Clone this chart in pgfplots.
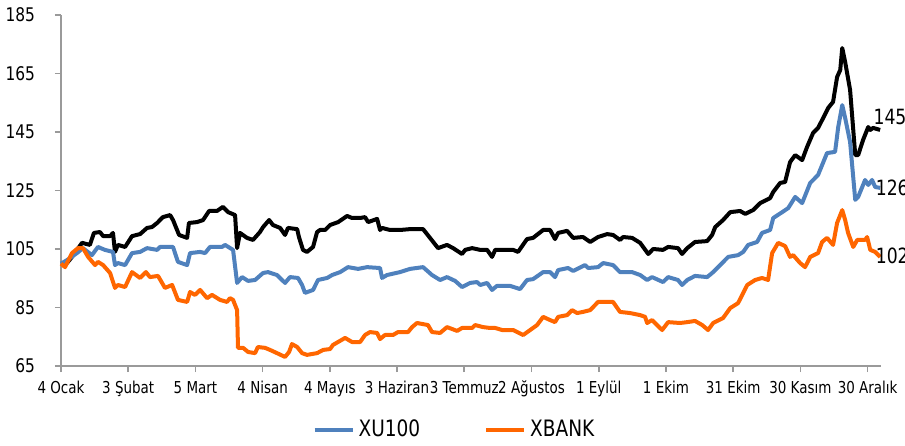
\documentclass[border=0pt]{standalone}
\usepackage{fontspec}
\setmainfont{DejaVu Sans}[FakeStretch=0.82]
\usepackage{pgfplots}
\pgfplotsset{compat=1.18}
\definecolor{xublue}{HTML}{4F81BD}
\definecolor{xborange}{HTML}{FF6600}
\definecolor{axgray}{HTML}{9A9A9A}
\begin{document}
\begin{tikzpicture}
\begin{axis}[
  at={(0,0)}, anchor=south west,
  scale only axis, width=410pt, height=175.5pt,
  xmin=0, xmax=366, ymin=65, ymax=185,
  axis x line*=bottom, axis y line*=left,
  axis line style={axgray, line width=0.9pt, -},
  xtick={0,30,60,90,120,150,180,210,240,270,300,330,360},
  xticklabels={4 Ocak,3 Şubat,5 Mart,4 Nisan,4 Mayıs,3 Haziran,3 Temmuz,2 Ağustos,1 Eylül,1 Ekim,31 Ekim,30 Kasım,30 Aralık},
  ytick={65,85,105,125,145,165,185},
  tick align=outside, major tick length=3pt,
  tick style={axgray, line width=0.8pt},
  /pgf/number format/assume math mode=true,
  yticklabel style={font=\fontsize{9.4}{11}\selectfont, xshift=-6.5pt},
  xticklabel style={font=\fontsize{8.2}{10}\selectfont, text height=1.5ex, text depth=0.3ex, yshift=1pt},
  legend style={at={(0.481,-0.182)}, anchor=center, draw=none, fill=none,
    font=\fontsize{11.3}{13}\selectfont, legend columns=2,
    /tikz/every even column/.append style={column sep=30pt}},
  legend image code/.code={\draw[#1, line width=2pt] (0pt,0pt) -- (19pt,0pt);},
  clip=false,
]
% black series (no legend entry)
\addplot[black, line width=2pt, line join=round, forget plot] coordinates {
(0,100.0)(2.7,100.2)(4.9,102.3)(9.4,107.1)(12.9,106.4)(14.7,110.5)(17.4,110.8)(18.8,109.4)(21.9,109.4)(23.2,110.5)(24.1,104.0)(25.4,106.4)(28.6,105.7)(31.7,109.4)(35.3,110.1)(38.4,112.2)(40.6,112.5)(42.9,113.9)(45.5,115.9)(48.7,116.6)(50.0,114.9)(52.7,109.8)(56.3,108.8)(57.1,113.9)(60.7,114.2)(63.4,114.9)(66.1,118.0)(69.6,118.0)(72.3,119.4)(74.6,117.6)(77.7,116.6)(78.6,105.3)(79.9,110.5)(83.0,108.8)(85.7,108.1)(88.8,110.8)(90.2,112.5)(92.9,114.9)(94.6,113.2)(97.8,112.2)(100.0,109.8)(101.3,112.2)(105.4,111.8)(106.2,109.1)(108.0,104.7)(109.8,104.0)(112.5,105.7)(114.3,110.8)(115.6,111.5)(117.9,111.5)(120.1,113.2)(123.7,114.2)(127.7,116.3)(129.9,115.6)(133.5,115.6)(135.7,115.9)(137.1,114.2)(141.1,115.3)(142.4,111.5)(143.3,112.2)(146.9,111.5)(151.3,111.5)(155.8,111.8)(161.6,111.8)(164.7,108.8)(168.3,105.3)(172.3,106.4)(175.0,105.3)(179.0,103.3)(180.4,104.7)(183.5,105.3)(187.1,104.7)(190.2,104.7)(192.4,102.3)(193.8,104.7)(197.3,104.7)(201.8,104.7)(204.0,104.0)(208.0,108.4)(210.7,108.8)(215.2,111.5)(218.3,111.5)(220.5,108.4)(221.9,110.5)(225.9,111.2)(228.6,108.8)(233.0,109.1)(236.2,107.4)(239.7,109.1)(243.8,110.1)(246.4,109.8)(249.5,108.1)(250.9,109.1)(254.9,108.8)(258.5,107.1)(262.1,103.3)(264.3,105.0)(268.7,104.7)(271.0,105.7)(275.4,105.3)(277.2,103.3)(279.5,105.3)(283.0,107.4)(288.4,107.7)(290.6,109.8)(292.0,112.5)(295.5,114.9)(298.7,117.6)(303.1,118.0)(305.4,117.0)(308.9,118.3)(312.1,120.7)(316.5,122.4)(317.9,124.5)(321.0,127.6)(323.2,127.9)(325.4,134.7)(327.7,137.1)(330.8,135.4)(333.0,139.9)(335.7,144.7)(337.9,146.4)(340.2,149.8)(342.4,153.2)(344.6,155.3)(346.4,163.8)(347.8,166.2)(348.7,173.7)(350.0,168.9)(352.2,159.4)(354.5,137.1)(355.8,137.1)(358.0,142.3)(360.3,146.7)(361.2,145.7)(362.5,146.4)(365.6,145.7)
};
\addplot[xublue, line width=2pt, line join=round] coordinates {
(0,100.0)(2.7,101.2)(7.1,103.6)(9.8,105.3)(13.8,102.9)(16.5,105.7)(19.6,104.7)(23.2,104.0)(24.1,99.5)(25.4,100.2)(28.6,99.5)(31.7,103.6)(35.3,104.0)(38.4,105.3)(42.9,104.7)(44.2,105.7)(50.0,105.7)(52.2,100.6)(56.3,99.5)(57.6,103.6)(62.1,104.0)(64.3,103.6)(66.5,105.7)(71.9,105.7)(73.2,106.4)(76.8,104.7)(78.6,93.4)(80.8,95.4)(83.5,94.1)(86.6,94.4)(90.2,96.8)(92.4,97.1)(96.4,96.1)(100.0,93.4)(102.2,95.4)(105.8,95.1)(107.6,92.7)(108.9,90.0)(112.5,91.0)(114.7,94.4)(118.8,95.1)(121.0,96.1)(124.6,97.1)(128.1,98.8)(132.6,98.2)(136.6,98.8)(142.4,98.5)(143.3,95.1)(145.5,96.1)(151.3,97.1)(155.8,98.2)(161.6,98.8)(165.6,96.1)(169.2,94.4)(172.3,95.4)(175.9,94.1)(179.0,92.0)(182.6,93.4)(185.7,93.7)(187.1,92.7)(190.2,93.4)(192.4,91.0)(194.6,92.4)(200.4,92.4)(204.9,91.3)(208.0,94.4)(210.7,94.7)(215.2,97.1)(218.3,97.1)(220.5,95.4)(221.9,97.8)(226.3,98.5)(228.6,97.5)(233.9,99.5)(235.3,98.5)(239.7,98.8)(242.0,100.2)(246.4,99.5)(249.5,97.1)(254.9,97.1)(258.5,96.1)(261.6,94.4)(263.8,95.4)(268.7,93.7)(271.0,95.4)(275.4,94.4)(277.2,92.7)(279.5,94.4)(283.0,95.8)(288.4,95.4)(291.1,97.1)(293.3,98.8)(297.8,102.3)(302.2,102.9)(304.5,104.0)(306.7,106.4)(310.7,107.4)(312.9,110.5)(316.5,111.5)(317.9,115.6)(321.9,117.6)(324.6,119.0)(327.7,122.8)(330.8,120.7)(334.4,127.6)(337.9,130.3)(341.9,137.8)(345.5,138.2)(346.9,146.7)(348.7,154.2)(350.0,149.8)(352.2,141.6)(354.5,121.8)(355.8,122.8)(358.9,128.6)(360.3,126.9)(362.0,128.6)(363.4,126.2)(365.6,125.9)
};
\addlegendentry{XU100}
\addplot[xborange, line width=2pt, line join=round] coordinates {
(0,100.0)(1.8,98.8)(4.9,103.6)(7.6,105.3)(9.8,105.3)(12.1,102.3)(15.2,99.5)(16.5,100.6)(18.8,99.5)(21.9,96.8)(24.1,91.7)(25.4,92.7)(28.6,92.0)(31.7,97.1)(35.3,95.1)(37.9,97.1)(39.7,95.4)(43.3,95.8)(46.4,91.7)(49.6,92.7)(52.2,87.6)(56.3,86.9)(57.6,90.3)(59.8,89.3)(62.1,91.0)(65.2,88.2)(67.4,89.3)(71.0,87.6)(74.1,86.9)(75.4,88.2)(76.8,87.6)(78.6,84.1)(79.0,71.2)(81.3,71.2)(83.5,69.8)(86.6,69.4)(87.9,71.5)(91.1,71.2)(93.3,70.5)(96.4,69.4)(100.0,68.1)(101.8,69.8)(103.1,72.5)(105.4,71.5)(107.6,69.4)(109.8,68.8)(114.3,69.4)(117.0,70.5)(120.1,70.8)(121.4,72.2)(126.8,74.6)(129.9,73.2)(133.5,73.2)(135.7,75.6)(137.9,76.6)(141.1,76.3)(142.4,74.2)(144.6,75.6)(148.2,75.6)(150.4,76.6)(154.9,76.6)(156.7,78.3)(158.9,79.7)(163.8,79.0)(165.6,76.6)(169.2,76.3)(172.3,78.3)(176.8,77.0)(179.0,78.0)(183.5,78.0)(184.8,79.0)(188.4,78.3)(191.5,78.0)(193.8,78.0)(196.9,77.3)(201.8,77.3)(206.3,75.6)(209.4,77.3)(212.5,79.0)(215.2,81.8)(218.3,80.7)(220.5,80.0)(221.9,81.8)(225.9,82.4)(228.1,84.1)(230.4,83.1)(233.0,83.5)(236.2,84.1)(239.7,86.9)(242.0,86.9)(246.4,86.9)(249.5,83.5)(254.0,83.1)(258.5,82.4)(260.7,81.8)(261.6,79.7)(263.8,80.7)(268.3,77.3)(271.0,80.0)(276.3,79.7)(279.5,80.0)(283.0,80.4)(286.2,79.0)(288.8,77.3)(291.1,79.7)(295.5,81.4)(298.7,84.8)(302.2,86.5)(306.3,92.7)(309.8,94.4)(312.9,95.1)(315.6,94.4)(317.4,103.6)(320.1,107.1)(323.2,106.0)(325.4,102.3)(326.8,102.9)(329.9,100.2)(332.1,98.8)(334.4,102.3)(337.9,103.6)(339.7,107.4)(341.9,108.8)(344.6,106.4)(346.4,113.9)(348.7,118.3)(350.0,114.9)(351.3,110.5)(353.6,105.7)(355.4,108.1)(358.9,108.1)(359.8,109.1)(361.2,104.7)(363.4,104.0)(365.6,102.3)
};
\addlegendentry{XBANK}
\node[anchor=west, inner sep=0pt, font=\fontsize{10.5}{12}\selectfont] at (axis cs:362.5,150.0) {145};
\node[anchor=west, inner sep=0pt, font=\fontsize{10.5}{12}\selectfont] at (axis cs:363.5,125.9) {126};
\node[anchor=west, inner sep=0pt, font=\fontsize{10.5}{12}\selectfont] at (axis cs:363.5,102.6) {102};
\end{axis}
\pgfresetboundingbox
\path (-30.5pt,-39.5pt) rectangle (422pt,183pt);
\end{tikzpicture}
\end{document}
